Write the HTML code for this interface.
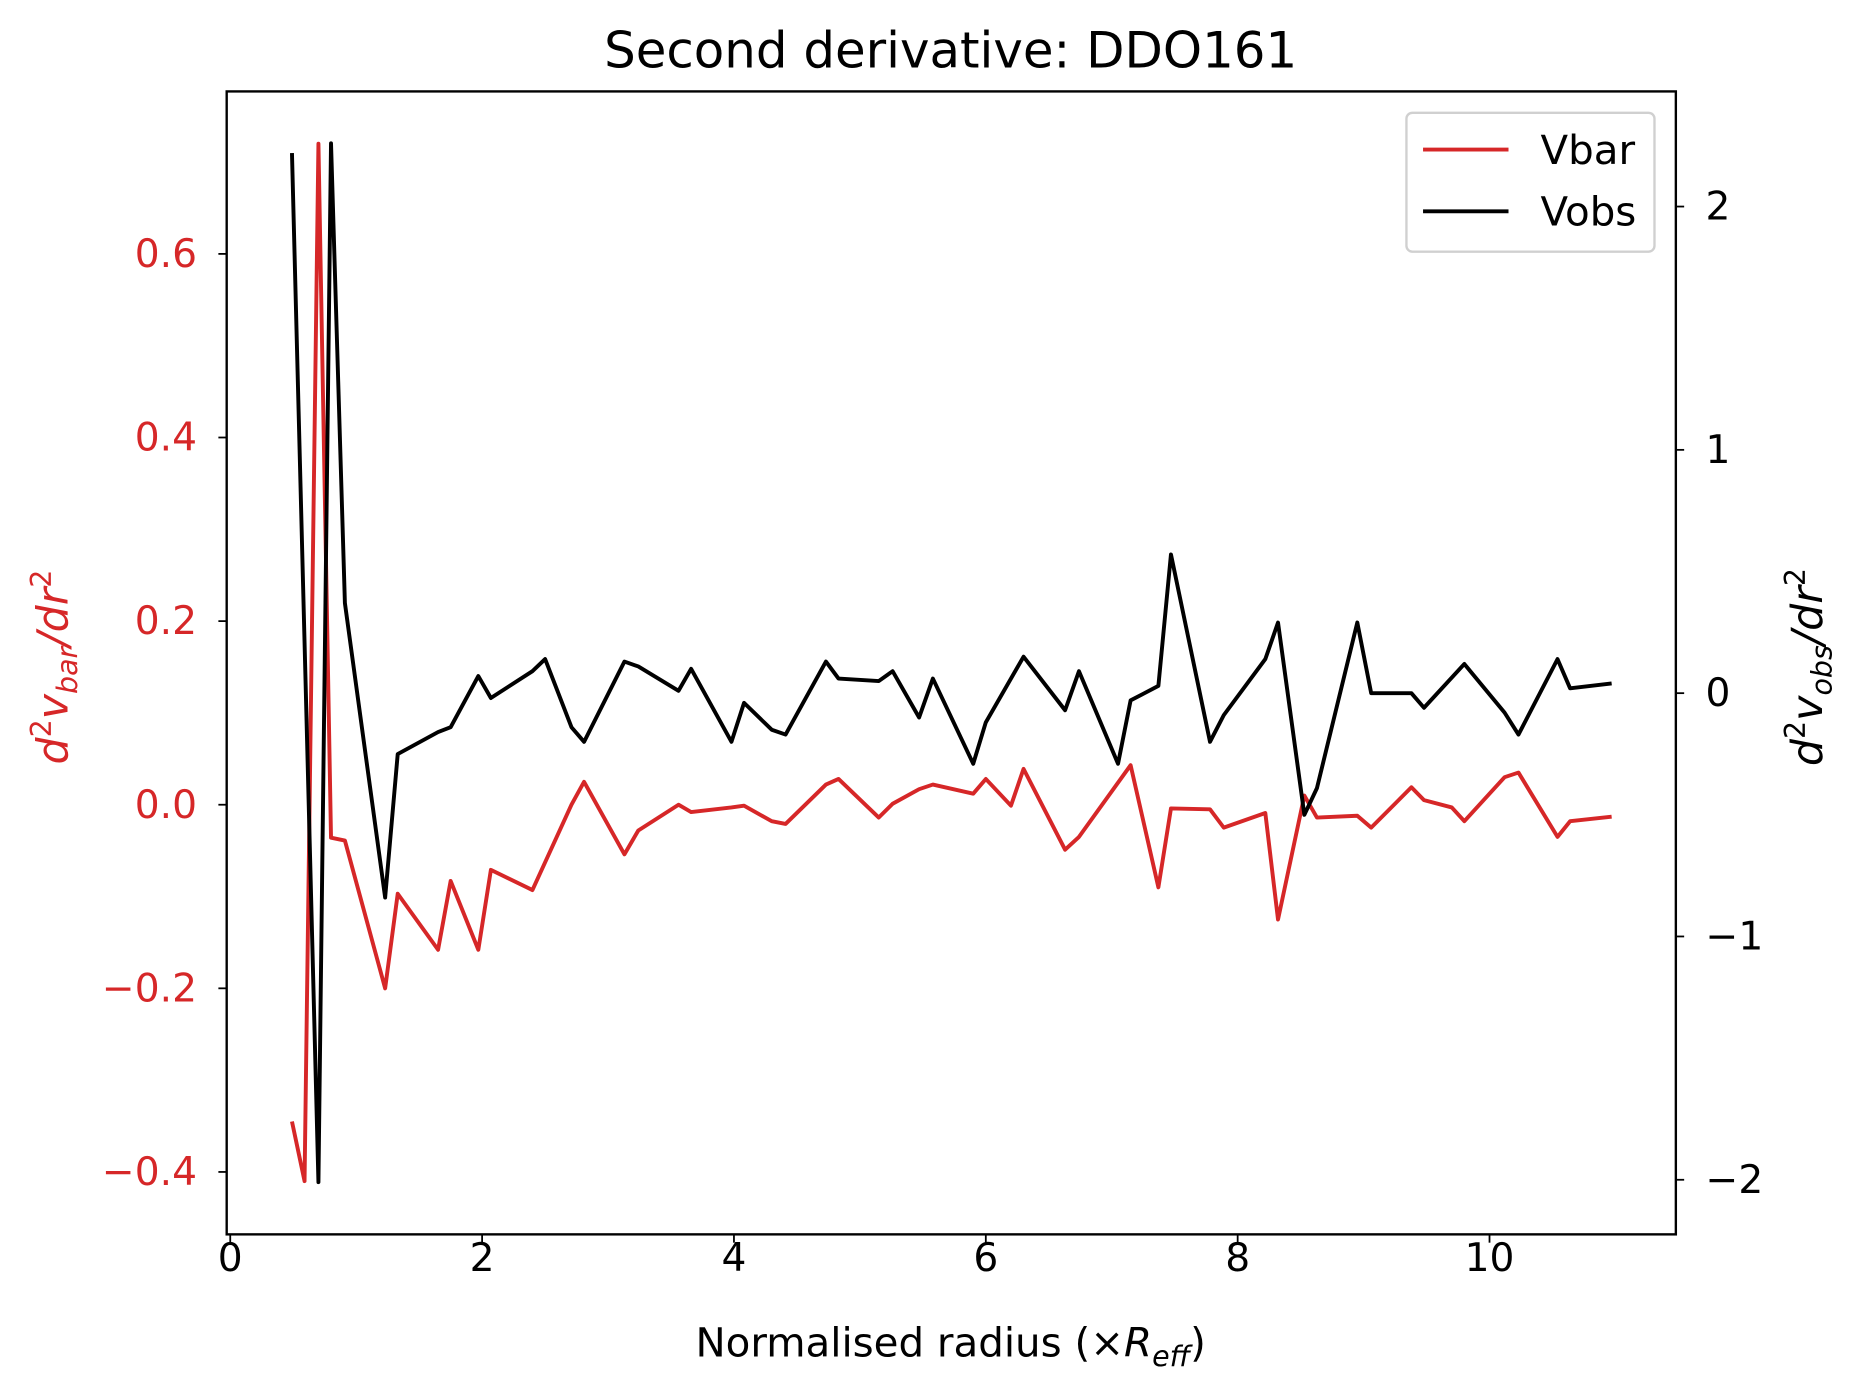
<!DOCTYPE html>
<html><head><meta charset="utf-8"><style>
html,body{margin:0;padding:0;background:#fff;}
svg{display:block;font-family:"DejaVu Sans","Liberation Sans",sans-serif;}
</style></head><body>
<svg id="chart" width="1861" height="1397" viewBox="0 0 1568 1177" xmlns="http://www.w3.org/2000/svg">
<rect width="1568" height="1177" fill="#fff"/>
<text x="801" y="57" font-size="42" text-anchor="middle">Second derivative: DDO161</text>
<g id="plot"></g>
<text x="801" y="1143" font-size="34" text-anchor="middle">Normalised radius (×<tspan font-style="italic">R</tspan><tspan font-style="italic" font-size="24" dy="8">eff</tspan><tspan dy="-8">)</tspan></text>
<text transform="translate(57,562) rotate(-90)" font-size="36" text-anchor="middle" fill="#d62728" font-style="italic">d<tspan font-style="normal" font-size="24" dy="-14">2</tspan><tspan dy="14">v</tspan><tspan font-size="24" dy="8">bar</tspan><tspan dy="-8">/dr</tspan><tspan font-style="normal" font-size="24" dy="-14">2</tspan></text>
<text transform="translate(1535,562) rotate(-90)" font-size="36" text-anchor="middle" font-style="italic">d<tspan font-style="normal" font-size="24" dy="-14">2</tspan><tspan dy="14">v</tspan><tspan font-size="24" dy="8">obs</tspan><tspan dy="-8">/dr</tspan><tspan font-style="normal" font-size="24" dy="-14">2</tspan></text>
<g>
<rect x="1185" y="95" width="209" height="117" rx="5" fill="#fff" stroke="#d0d0d0" stroke-width="2"/>
<line x1="1199" y1="126" x2="1271" y2="126" stroke="#d62728" stroke-width="3.3"/>
<text x="1298" y="138" font-size="34">Vbar</text>
<line x1="1199" y1="178" x2="1271" y2="178" stroke="#000" stroke-width="3.3"/>
<text x="1298" y="190" font-size="34">Vobs</text>
</g>
</svg>
<script>
const xVals=[0.49,0.59,0.70,0.80,0.91,1.23,1.33,1.65,1.75,1.97,2.07,2.40,2.71,2.81,3.13,3.24,3.56,3.66,3.98,4.08,4.30,4.41,4.73,4.83,5.15,5.26,5.47,5.58,5.90,6.00,6.20,6.30,6.63,6.74,7.15,7.37,7.47,7.78,7.89,8.22,8.32,8.53,8.63,8.95,9.06,9.38,9.48,9.70,9.80,10.12,10.23,10.54,10.64,10.97];
const vbarVals=[-0.345,-0.41,0.72,-0.036,-0.039,-0.20,-0.097,-0.158,-0.083,-0.158,-0.071,-0.093,0.0,0.025,-0.054,-0.028,0.0,-0.008,-0.003,-0.001,-0.018,-0.021,0.022,0.028,-0.014,0.001,0.017,0.022,0.012,0.028,-0.001,0.039,-0.049,-0.035,0.043,-0.09,-0.004,-0.005,-0.025,-0.009,-0.125,0.01,-0.014,-0.012,-0.025,0.019,0.005,-0.003,-0.018,0.030,0.035,-0.035,-0.018,-0.013];
const xObs=[0.49,0.70,0.80,0.91,1.23,1.33,1.65,1.75,1.97,2.07,2.40,2.50,2.71,2.81,3.13,3.24,3.56,3.66,3.98,4.08,4.30,4.41,4.73,4.83,5.15,5.26,5.47,5.58,5.90,6.00,6.30,6.63,6.74,7.05,7.15,7.37,7.47,7.78,7.89,8.22,8.32,8.53,8.63,8.95,9.06,9.38,9.48,9.80,10.12,10.23,10.54,10.64,10.97];
const vobsVals=[2.22,-2.01,2.26,0.37,-0.84,-0.25,-0.16,-0.14,0.07,-0.02,0.09,0.14,-0.14,-0.20,0.13,0.11,0.01,0.10,-0.20,-0.04,-0.15,-0.17,0.13,0.06,0.05,0.09,-0.10,0.06,-0.29,-0.12,0.15,-0.07,0.09,-0.29,-0.03,0.03,0.57,-0.20,-0.09,0.14,0.29,-0.50,-0.39,0.29,0.0,0.0,-0.06,0.12,-0.08,-0.17,0.14,0.02,0.04];
const xTicks=[0,2,4,6,8,10];
const leftTicks=[-0.4,-0.2,0.0,0.2,0.4,0.6];
const leftTickLabels=["\u22120.4","\u22120.2","0.0","0.2","0.4","0.6"];
const rightTicks=[-2,-1,0,1,2];
const rightTickLabels=["\u22122","\u22121","0","1","2"];

const L=191,R=1412,T=77,B=1040;
function sx(v){return 194+v*106.1;}
function syL(v){return 678-v*773.5;}
function syR(v){return 584-v*205;}
const NS="http://www.w3.org/2000/svg";
const g=document.getElementById('plot');
function mk(tag,attrs){const e=document.createElementNS(NS,tag);for(const k in attrs)e.setAttribute(k,attrs[k]);g.appendChild(e);return e;}

function line(xs,ys,fy,color,name){
  const d=xs.map((x,i)=>(i?'L':'M')+sx(x).toFixed(1)+','+fy(ys[i]).toFixed(1)).join(' ');
  const p=mk('path',{d:d,fill:'none',stroke:color,'stroke-width':3.3,'stroke-linejoin':'round'});
  
  
}
line(xVals,vbarVals,syL,'#d62728','vbar-line');
line(xObs,vobsVals,syR,'#000','vobs-line');

const frame=mk('rect',{x:L,y:T,width:R-L,height:B-T,fill:'none',stroke:'#000','stroke-width':2});



xTicks.forEach(v=>{
  const x=sx(v);
  const t=mk('line',{x1:x,y1:B,x2:x,y2:B+7,stroke:'#000','stroke-width':1.5});
  
  
  const l=mk('text',{x:x,y:B+31,'font-size':33,'text-anchor':'middle'});
  l.textContent=v;
  
  
});
leftTicks.forEach((v,i)=>{
  const y=syL(v);
  const t=mk('line',{x1:L-7,y1:y,x2:L,y2:y,stroke:'#000','stroke-width':1.5});
  
  
  const l=mk('text',{x:L-25,y:y+11,'font-size':33,'text-anchor':'end',fill:'#d62728'});
  l.textContent=leftTickLabels[i];
  
  
});
rightTicks.forEach((v,i)=>{
  const y=syR(v);
  const t=mk('line',{x1:R,y1:y,x2:R+7,y2:y,stroke:'#000','stroke-width':1.5});
  
  
  const l=mk('text',{x:R+25,y:y+11,'font-size':33,'text-anchor':'start'});
  l.textContent=rightTickLabels[i];
  
  
});
</script>
</body></html>
